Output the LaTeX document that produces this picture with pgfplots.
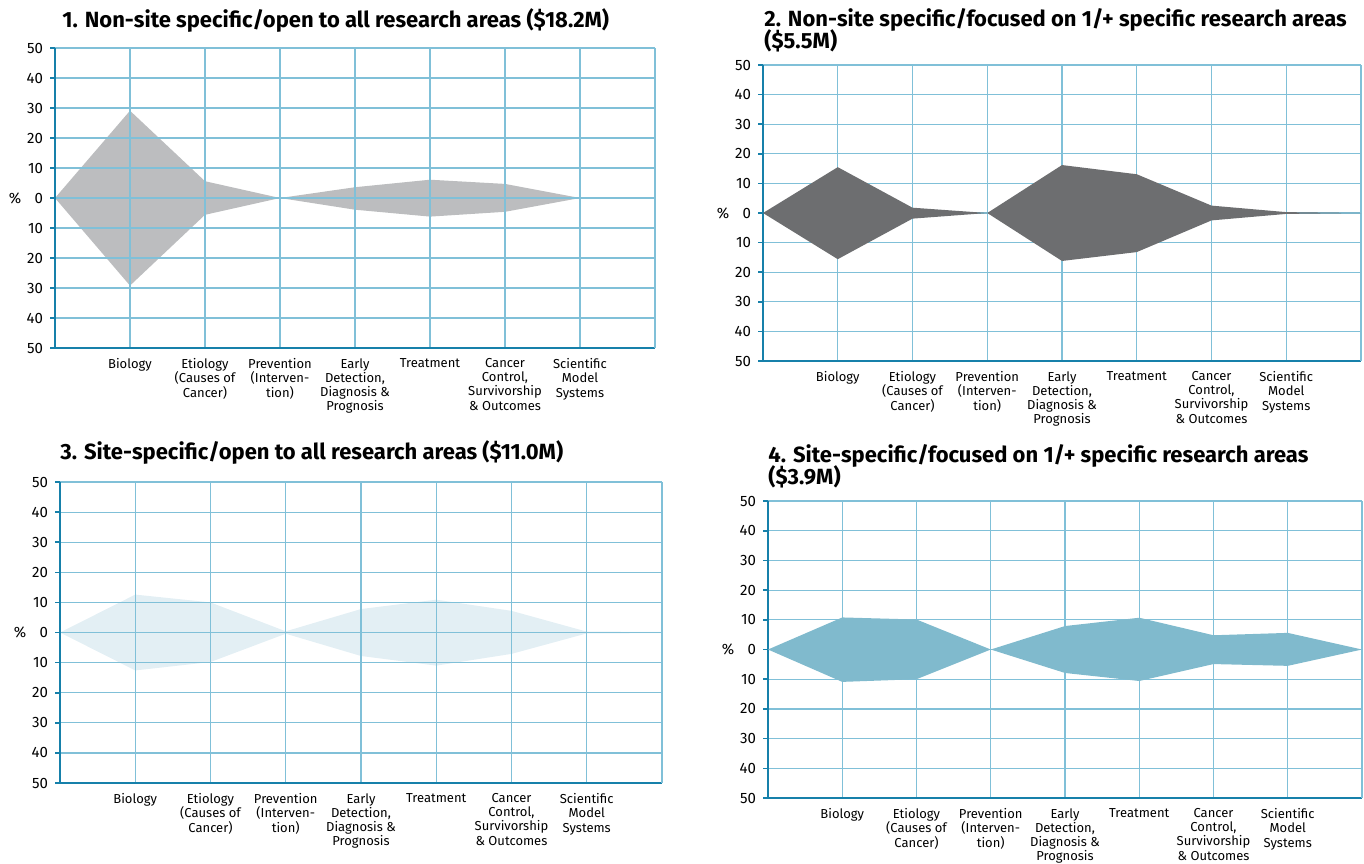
\documentclass[border=0pt]{standalone}
\usepackage{fontspec}
\setmainfont{Fira Sans}
\usepackage{pgfplots}
\pgfplotsset{compat=1.18}

\definecolor{axc}{RGB}{22,128,170}
\definecolor{gridc}{RGB}{128,192,216}
\definecolor{fillA}{RGB}{188,189,191}
\definecolor{fillB}{RGB}{109,110,112}
\definecolor{fillC}{RGB}{227,239,244}
\definecolor{fillD}{RGB}{128,186,205}

\tikzset{pct/.style={font=\fontsize{7.5}{8.5}\selectfont}}

\pgfplotsset{
  panel/.style={
    scale only axis, clip=false,
    xmin=0, xmax=8, ymin=-50, ymax=50,
    xtick={1,...,7},
    xticklabels={Biology,
      {Etiology\\(Causes of\\Cancer)},
      {Prevention\\(Interven-\\tion)},
      {Early\\Detection,\\Diagnosis \&\\Prognosis},
      Treatment,
      {Cancer\\Control,\\Survivorship\\\& Outcomes},
      {Scientific\\Model\\Systems}},
    ytick={-50,-40,...,50},
    yticklabels={50,40,30,20,10,0,10,20,30,40,50},
    grid=major,
    major grid style={draw=gridc, line width=0.6pt},
    axis x line*=bottom, axis y line*=left,
    axis line style={draw=axc, line width=0.9pt, -},
    extra x ticks={8}, extra x tick labels={},
    extra x tick style={grid=major, major tick length=0pt},
    x tick style={draw=none},
    y tick style={draw=axc, line width=0.8pt},
    tick align=outside, major tick length=2.5pt,
    xticklabel style={font=\fontsize{6.5}{7.1}\selectfont, align=center, anchor=north, yshift=0.8pt},
    yticklabel style={font=\fontsize{7.5}{8.5}\selectfont},
    /pgf/number format/assume math mode=true,
  },
}

\begin{document}
\begin{tikzpicture}
\useasboundingbox (0pt,0pt) rectangle (682pt,-431.5pt);

% titles
\node[anchor=base west, inner sep=0pt, font=\fontsize{11}{12}\selectfont\bfseries] at (31pt,-13.5pt) {1. Non-site specific/open to all research areas (\$18.2M)};
\node[anchor=base west, inner sep=0pt, font=\fontsize{11}{12}\selectfont\bfseries] at (382pt,-13pt) {2. Non-site specific/focused on 1/+ specific research areas};
\node[anchor=base west, inner sep=0pt, font=\fontsize{11}{12}\selectfont\bfseries] at (382pt,-24pt) {(\$5.5M)};
\node[anchor=base west, inner sep=0pt, font=\fontsize{11}{12}\selectfont\bfseries] at (30pt,-229.5pt) {3. Site-specific/open to all research areas (\$11.0M)};
\node[anchor=base west, inner sep=0pt, font=\fontsize{11}{12}\selectfont\bfseries] at (384pt,-231pt) {4. Site-specific/focused on 1/+ specific research areas};
\node[anchor=base west, inner sep=0pt, font=\fontsize{11}{12}\selectfont\bfseries] at (384pt,-242pt) {(\$3.9M)};

% panel 1
\begin{axis}[panel, axis on top, at={(27.5pt,-174pt)}, anchor=south west, width=300pt, height=150pt]
\addplot[fill=fillA, draw=none] coordinates {
  (0,0) (1,29.1) (2,5.6) (3,0) (4,3.6) (5,6.1) (6,4.7) (7,0)
  (6,-4.6) (5,-6.2) (4,-3.9) (3,0) (2,-5.6) (1,-29.2) (0,0)} --cycle;
\node[pct] at (rel axis cs:0,0.5) [xshift=-20pt] {\%};
\end{axis}

% panel 2
\begin{axis}[panel, at={(381.5pt,-180.5pt)}, anchor=south west, width=299pt, height=148pt]
\addplot[fill=fillB, draw=none] coordinates {
  (0,0) (1,15.5) (2,1.8) (3,0) (4,16.2) (5,13.1) (6,2.5) (7,0.3) (8,0)
  (7,-0.3) (6,-2.5) (5,-13.2) (4,-16.2) (3,0) (2,-1.9) (1,-15.6) (0,0)} --cycle;
\node[pct] at (rel axis cs:0,0.5) [xshift=-20pt] {\%};
\end{axis}

% panel 3
\begin{axis}[panel, axis on top, at={(30pt,-391.5pt)}, anchor=south west, width=301pt, height=150.5pt]
\addplot[fill=fillC, draw=none] coordinates {
  (0,0) (1,12.6) (2,10) (3,0.4) (4,7.8) (5,10.9) (6,7.2) (7,0.3) (8,0.2)
  (8,-0.2) (7,-0.3) (6,-7.1) (5,-11) (4,-7.8) (3,-0.4) (2,-9.8) (1,-12.6) (0,0)} --cycle;
\node[pct] at (rel axis cs:0,0.5) [xshift=-20pt] {\%};
\end{axis}

% panel 4
\begin{axis}[panel, at={(384pt,-399pt)}, anchor=south west, width=297pt, height=148.5pt]
\addplot[fill=fillD, draw=none] coordinates {
  (0,0) (1,10.8) (2,10.1) (3,0) (4,7.9) (5,10.7) (6,4.8) (7,5.6) (8,0)
  (7,-5.5) (6,-4.9) (5,-10.6) (4,-7.9) (3,0) (2,-10) (1,-10.9) (0,0)} --cycle;
\node[pct] at (rel axis cs:0,0.5) [xshift=-20pt] {\%};
\end{axis}
\end{tikzpicture}
\end{document}
